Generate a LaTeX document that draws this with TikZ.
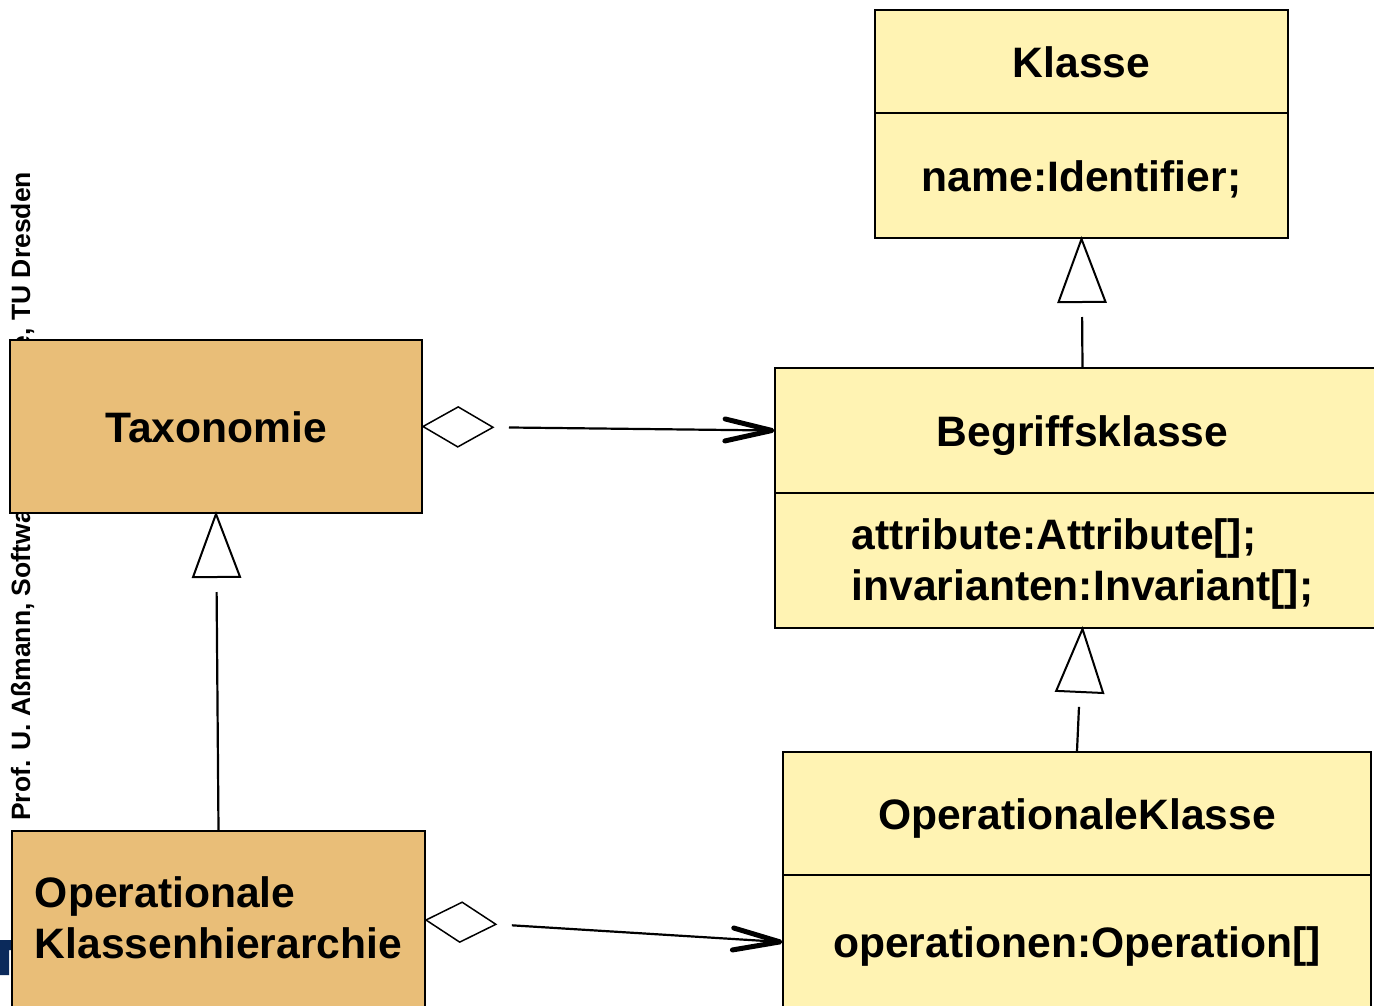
\documentclass[tikz,border=0pt]{standalone}
\usepackage{fontspec}
\setmainfont{Liberation Sans}
\usetikzlibrary{calc}
\definecolor{classyellow}{HTML}{FFF3B3}
\definecolor{pkgorange}{HTML}{E9BE78}
\definecolor{tublue}{HTML}{0B2A5B}

% generalization: line from child (top side) to an open triangle touching the parent (bottom side)
\newcommand\genlink[2]{%
  \path ($(#2.south)!63pt!(#1.north)$) coordinate (#1-tb)
        ($(#2.south)!78pt!(#1.north)$) coordinate (#1-te);
  \draw[conn] (#1.north) -- (#1-te);
  \draw[tipline, fill=white]
    (#2.south) -- ($(#1-tb)!23.5pt!90:(#2.south)$) -- ($(#1-tb)!23.5pt!-90:(#2.south)$) -- cycle;
}
% aggregation: open diamond at the whole, open barb at the part
\newcommand\aggrlink[2]{%
  \path ($(#1.east)!70pt!(#2.west)$) coordinate (#1-df)
        ($(#1.east)!35pt!(#2.west)$) coordinate (#1-dm)
        ($(#1.east)!86pt!(#2.west)$) coordinate (#1-ls)
        ($(#2.west)!2pt!(#1.east)$) coordinate (#1-ah)
        ($(#2.west)!49pt!(#1.east)$) coordinate (#1-ab);
  \draw[tipline, line width=1.5pt, fill=white]
    (#1.east) -- ($(#1-dm)!20pt!90:(#1.east)$) -- (#1-df) -- ($(#1-dm)!20pt!-90:(#1.east)$) -- cycle;
  \draw[conn] (#1-ls) -- (#1-ah);
  \draw[barb] ($(#1-ab)!11pt!90:(#1-ah)$) -- (#1-ah) -- ($(#1-ab)!11pt!-90:(#1-ah)$);
}

\begin{document}
\begin{tikzpicture}[x=1pt,y=-1pt,
  every node/.style={font=\fontsize{42.6}{51}\selectfont\bfseries, inner sep=0pt},
  cls/.style={draw=black, line width=2pt, fill=classyellow, rectangle},
  pkg/.style={draw=black, line width=2pt, fill=pkgorange, rectangle},
  onel/.style={text height=31pt, text depth=0pt},
  conn/.style={line width=2.2pt},
  tipline/.style={line width=2pt, line join=miter},
  barb/.style={line width=5pt, line cap=round, line join=round},
  footer/.style={font=\fontsize{26.5}{30}\selectfont\bfseries, rotate=90, anchor=base west},
]
\useasboundingbox (0,0) rectangle (1374,1005);
\begin{scope}
\clip (0,0) rectangle (1374,1005);

% running footer along the left margin
\node[footer] (foot) at (30,821) {Prof. U. Aßmann, Softwaretechnologie, TU Dresden};

% logo fragment at the lower left
\fill[tublue] (0,940) -- (13,940) -- (13,950) -- (9,950) -- (9,975) -- (0,975) -- cycle;

% packages
\node[pkg, minimum width=412pt, minimum height=173pt] (tax) at (216,426.5) {};
\node[onel] at (tax.center) {Taxonomie};
\node[pkg, minimum width=413pt, minimum height=178pt] (hier) at (218.5,920) {};
\node[align=left] at ($(hier.center)+(0,-2)$) {Operationale\\Klassenhierarchie};

% class Klasse
\node[cls, onel, minimum width=413pt, minimum height=103pt] (klH) at (1081.5,61.5) {Klasse};
\node[cls, onel, minimum width=413pt, minimum height=125pt] (klB) at (1081.5,175.5) {name:Identifier;};

% class Begriffsklasse
\node[cls, minimum width=615pt, minimum height=125pt] (beH) at (1082.5,430.5) {};
\node[onel] at (beH.center) {Begriffsklasse};
\node[cls, minimum width=615pt, minimum height=135pt] (beB) at (1082.5,560.5) {};
\node[align=left] at ($(beB.center)+(0,3)$) {attribute:Attribute[];\\invarianten:Invariant[];};

% class OperationaleKlasse
\node[cls, onel, minimum width=588pt, minimum height=123pt] (okH) at (1077,813.5) {OperationaleKlasse};
\node[cls, minimum width=588pt, minimum height=134pt] (okB) at (1077,942) {};
\node[onel] at (okB.center) {operationen:Operation[]};

% generalizations
\genlink{beH}{klB}
\genlink{okH}{beB}
\genlink{hier}{tax}

% aggregations
\aggrlink{tax}{beH}
\aggrlink{hier}{okB}
\end{scope}
\end{tikzpicture}
\end{document}
